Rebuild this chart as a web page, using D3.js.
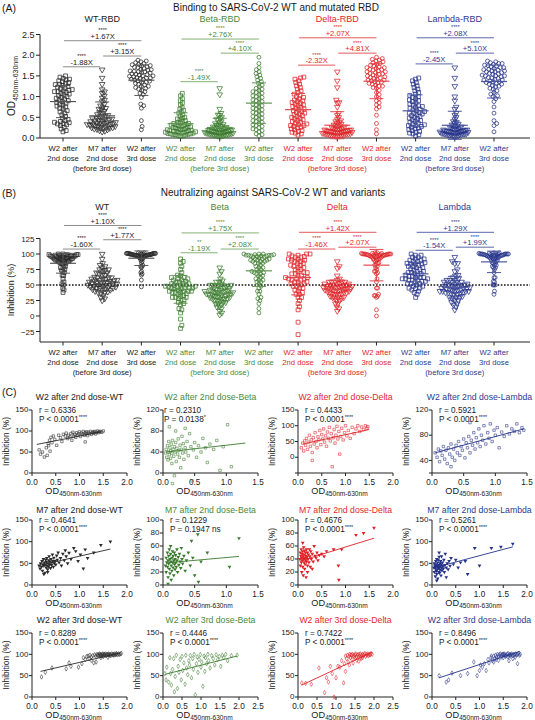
<!DOCTYPE html>
<html><head><meta charset="utf-8">
<script src="https://cdn.jsdelivr.net/npm/d3@7"></script>
<style>body{margin:0;background:#fff}svg{display:block}text{font-family:"Liberation Sans",Arial,Helvetica,sans-serif}</style>
</head><body><svg id="c" width="535" height="720"></svg>
<script>
// ---------------- DATA ----------------
const variants = ["WT","Beta","Delta","Lambda"];
const groupTitlesA = ["WT-RBD","Beta-RBD","Delta-RBD","Lambda-RBD"];
const groupTitlesB = ["WT","Beta","Delta","Lambda"];
const timeLine1 = ["W2 after","M7 after","W2 after"];
const timeLine2 = ["2nd dose","2nd dose","3rd dose"];
const beforeLabel = "(before 3rd dose)";
const timeTitles = ["W2 after 2nd dose","M7 after 2nd dose","W2 after 3rd dose"];

// per subject pairs: [OD450nm-630nm, inhibition %]
const wt_w2 = [[0.15,55],[0.18,45],[0.22,50],[0.26,38],[0.3,60],[0.32,42],[0.34,70],[0.35,65],[0.37,78],[0.38,52],[0.4,85],[0.42,72],[0.45,88],[0.48,80],[0.52,66],[0.56,90],[0.6,84],[0.63,75],[0.66,92],[0.7,88],[0.72,95],[0.75,82],[0.77,90],[0.8,86],[0.82,94],[0.84,78],[0.86,97],[0.88,88],[0.9,92],[0.92,85],[0.94,96],[0.96,90],[0.98,93],[1.0,98],[1.02,87],[1.04,95],[1.06,92],[1.08,99],[1.1,90],[1.12,96],[1.14,93],[1.15,98],[1.17,89],[1.19,97],[1.21,94],[1.23,99],[1.25,92],[1.27,96],[1.29,98],[1.3,95],[1.32,99],[1.34,93],[1.36,97],[1.38,100],[1.4,96],[1.42,98],[1.44,99],[1.47,97],[1.5,100],[1.12,74]];
const wt_m7 = [[0.15,45],[0.17,38],[0.18,50],[0.2,42],[0.21,55],[0.22,33],[0.23,48],[0.24,60],[0.25,44],[0.26,52],[0.27,28],[0.28,47],[0.29,58],[0.3,40],[0.3,53],[0.31,62],[0.32,45],[0.33,36],[0.34,50],[0.35,57],[0.35,43],[0.36,66],[0.37,48],[0.38,54],[0.39,39],[0.4,60],[0.41,46],[0.42,52],[0.43,70],[0.44,56],[0.45,42],[0.46,63],[0.47,50],[0.48,55],[0.5,47],[0.52,68],[0.53,58],[0.55,75],[0.57,52],[0.6,62],[0.62,45],[0.65,72],[0.68,57],[0.7,80],[0.72,66],[0.75,50],[0.78,74],[0.82,60],[0.88,85],[0.92,78],[0.97,55],[1.02,70],[1.08,38],[1.12,82],[1.17,62],[1.3,75],[1.45,92],[1.65,100],[0.25,25],[0.33,30]];
const wt_w3 = [[0.2,47],[0.28,58],[0.42,68],[0.72,66],[0.78,80],[0.82,72],[0.98,70],[1.05,78],[1.08,92],[1.12,88],[1.15,95],[1.18,96],[1.2,90],[1.22,98],[1.25,94],[1.28,97],[1.3,80],[1.32,99],[1.34,96],[1.35,82],[1.37,100],[1.38,98],[1.4,97],[1.41,99],[1.42,101],[1.44,98],[1.45,100],[1.46,97],[1.48,99],[1.49,101],[1.5,98],[1.52,100],[1.53,99],[1.54,97],[1.55,101],[1.57,98],[1.58,100],[1.6,99],[1.61,101],[1.62,98],[1.64,100],[1.65,99],[1.66,97],[1.68,101],[1.7,99],[1.71,100],[1.72,98],[1.74,101],[1.75,99],[1.77,100],[1.78,102],[1.8,99],[1.82,101],[1.84,100],[1.86,101],[1.88,102],[1.6,93],[1.5,95],[1.45,92],[1.25,86]];
const beta_w2 = [[0.04,38],[0.05,45],[0.06,30],[0.07,52],[0.08,25],[0.08,40],[0.09,60],[0.1,35],[0.1,88],[0.11,48],[0.12,28],[0.12,42],[0.13,55],[0.14,18],[0.14,38],[0.15,62],[0.16,45],[0.17,32],[0.18,50],[0.18,-5],[0.19,40],[0.2,58],[0.21,22],[0.22,47],[0.23,36],[0.24,65],[0.25,43],[0.26,30],[0.27,53],[0.28,10],[0.29,45],[0.3,70],[0.31,38],[0.32,56],[0.33,26],[0.35,48],[0.36,40],[0.38,60],[0.4,33],[0.42,75],[0.44,50],[0.46,-15],[0.48,44],[0.5,58],[0.53,30],[0.56,52],[0.6,40],[0.63,66],[0.67,48],[0.7,20],[0.74,55],[0.8,45],[0.85,62],[0.9,5],[0.95,50],[1.02,92],[1.08,12],[0.2,80],[0.15,-20],[0.35,85]];
const beta_m7 = [[0.04,30],[0.05,42],[0.05,20],[0.06,35],[0.07,50],[0.07,28],[0.08,38],[0.08,12],[0.09,45],[0.09,33],[0.1,55],[0.1,25],[0.11,40],[0.11,18],[0.12,36],[0.12,48],[0.13,30],[0.13,8],[0.14,42],[0.14,22],[0.15,52],[0.15,35],[0.16,27],[0.16,45],[0.17,38],[0.17,15],[0.18,32],[0.18,50],[0.19,40],[0.19,24],[0.2,46],[0.2,34],[0.21,28],[0.22,55],[0.22,38],[0.23,20],[0.24,43],[0.25,31],[0.26,48],[0.27,36],[0.28,26],[0.29,57],[0.3,40],[0.31,33],[0.33,45],[0.35,22],[0.37,38],[0.4,50],[0.43,30],[0.47,42],[0.5,15],[0.55,78],[0.56,5],[0.6,36],[0.7,50],[0.45,68],[1.05,28],[1.2,72],[0.12,60],[0.08,2]];
const beta_w3 = [[0.05,55],[0.08,40],[0.1,70],[0.15,35],[0.18,92],[0.2,55],[0.22,28],[0.25,65],[0.28,90],[0.3,12],[0.32,48],[0.35,98],[0.38,20],[0.4,72],[0.42,58],[0.45,88],[0.48,40],[0.5,95],[0.52,62],[0.55,80],[0.58,30],[0.6,98],[0.62,68],[0.65,52],[0.68,85],[0.7,75],[0.72,97],[0.75,45],[0.78,90],[0.8,65],[0.82,100],[0.85,5],[0.88,78],[0.9,94],[0.92,58],[0.95,88],[0.98,99],[1.0,70],[1.02,82],[1.05,25],[1.08,96],[1.1,60],[1.12,92],[1.15,78],[1.18,100],[1.2,85],[1.24,68],[1.28,97],[1.32,90],[1.36,75],[1.4,99],[1.44,88],[1.48,95],[1.52,72],[1.56,98],[1.6,92],[1.65,100],[1.7,85],[1.8,97],[1.95,98]];
const delta_w2 = [[0.07,30],[0.1,45],[0.12,20],[0.14,52],[0.16,38],[0.18,60],[0.2,25],[0.22,48],[0.24,70],[0.26,35],[0.28,55],[0.3,15],[0.32,62],[0.34,42],[0.36,78],[0.38,50],[0.4,30],[0.42,65],[0.44,55],[0.46,85],[0.48,40],[0.5,72],[0.52,58],[0.54,90],[0.56,48],[0.58,68],[0.6,35],[0.62,80],[0.64,60],[0.66,95],[0.68,52],[0.7,75],[0.72,-30],[0.74,62],[0.76,88],[0.78,45],[0.8,70],[0.82,98],[0.84,58],[0.86,82],[0.88,10],[0.9,66],[0.92,92],[0.95,55],[0.98,78],[1.0,100],[1.03,68],[1.06,85],[1.1,60],[1.14,95],[1.18,75],[1.22,90],[1.26,100],[1.3,82],[1.34,96],[1.38,88],[1.42,100],[1.45,92],[1.47,97],[0.3,-10]];
const delta_m7 = [[0.04,40],[0.05,50],[0.05,30],[0.06,45],[0.07,55],[0.07,35],[0.08,42],[0.08,20],[0.09,48],[0.09,38],[0.1,52],[0.1,28],[0.11,44],[0.11,15],[0.12,40],[0.12,58],[0.13,35],[0.13,47],[0.14,25],[0.14,53],[0.15,42],[0.15,32],[0.16,50],[0.16,38],[0.17,45],[0.17,12],[0.18,55],[0.18,36],[0.19,43],[0.2,30],[0.2,50],[0.21,40],[0.22,47],[0.23,35],[0.24,55],[0.25,44],[0.26,28],[0.27,52],[0.28,40],[0.3,48],[0.32,36],[0.34,60],[0.36,45],[0.38,42],[0.4,50],[0.42,38],[0.45,46],[0.5,48],[0.55,44],[0.6,52],[0.75,55],[0.85,30],[0.86,8],[0.92,55],[1.22,77],[1.38,80],[1.6,88],[0.1,65],[0.2,20],[0.3,25]];
const delta_w3 = [[0.1,33],[0.2,32],[0.35,30],[0.55,68],[0.7,10],[0.75,45],[0.8,35],[0.85,72],[0.9,55],[0.95,0],[1.0,45],[1.05,72],[1.1,70],[1.15,85],[1.2,33],[1.22,78],[1.25,60],[1.28,90],[1.3,98],[1.32,82],[1.34,96],[1.36,100],[1.38,92],[1.4,98],[1.42,88],[1.44,100],[1.46,97],[1.48,95],[1.5,99],[1.52,101],[1.54,94],[1.56,98],[1.58,100],[1.6,96],[1.62,99],[1.64,101],[1.66,90],[1.68,98],[1.7,100],[1.72,97],[1.74,99],[1.76,102],[1.78,95],[1.8,100],[1.82,98],[1.84,101],[1.86,97],[1.88,100],[1.9,99],[1.92,102],[1.95,100],[1.45,80],[1.55,86],[1.65,93],[1.35,75],[1.5,91],[1.6,84],[1.7,92],[1.25,96],[1.4,99]];
const lambda_w2 = [[0.05,52],[0.08,45],[0.1,58],[0.12,38],[0.14,55],[0.16,48],[0.18,62],[0.2,42],[0.22,56],[0.24,35],[0.26,60],[0.28,50],[0.3,66],[0.32,45],[0.34,58],[0.36,40],[0.38,64],[0.4,52],[0.42,70],[0.44,48],[0.46,62],[0.48,56],[0.5,74],[0.52,44],[0.54,68],[0.56,60],[0.58,78],[0.6,52],[0.62,72],[0.64,64],[0.66,84],[0.68,58],[0.7,76],[0.72,68],[0.74,90],[0.76,62],[0.78,80],[0.8,72],[0.82,95],[0.85,66],[0.88,84],[0.9,75],[0.92,98],[0.95,70],[0.98,88],[1.0,80],[1.03,92],[1.06,60],[1.1,85],[1.14,78],[1.18,95],[1.22,82],[1.26,90],[1.3,86],[1.34,98],[1.38,84],[1.42,92],[1.45,88],[0.3,30],[0.6,100]];
const lambda_m7 = [[0.04,40],[0.05,30],[0.05,50],[0.06,45],[0.07,20],[0.07,38],[0.08,55],[0.08,42],[0.09,32],[0.09,48],[0.1,60],[0.1,25],[0.11,44],[0.11,36],[0.12,52],[0.12,15],[0.13,40],[0.13,58],[0.14,30],[0.14,46],[0.15,38],[0.15,65],[0.16,42],[0.16,28],[0.17,50],[0.17,35],[0.18,45],[0.18,55],[0.19,22],[0.2,40],[0.2,48],[0.21,34],[0.22,52],[0.23,43],[0.24,38],[0.25,58],[0.26,30],[0.27,46],[0.28,72],[0.3,40],[0.32,50],[0.34,36],[0.36,55],[0.38,44],[0.4,62],[0.45,48],[0.5,58],[0.55,40],[0.6,52],[0.7,55],[0.75,25],[0.9,85],[1.0,45],[1.25,85],[1.45,88],[1.7,95],[0.1,10],[0.2,66],[0.3,18],[0.15,75]];
const lambda_w3 = [[0.15,50],[0.3,35],[0.35,40],[0.42,56],[0.6,50],[0.75,55],[0.88,82],[0.95,50],[1.0,62],[1.02,75],[1.06,70],[1.1,78],[1.14,62],[1.18,88],[1.2,80],[1.24,92],[1.27,85],[1.3,96],[1.32,90],[1.34,98],[1.36,94],[1.38,100],[1.4,96],[1.42,99],[1.44,101],[1.46,97],[1.48,100],[1.5,98],[1.52,101],[1.54,99],[1.56,97],[1.58,100],[1.6,102],[1.62,98],[1.64,100],[1.66,99],[1.68,101],[1.7,97],[1.72,100],[1.74,98],[1.76,101],[1.78,99],[1.8,100],[1.82,102],[1.84,98],[1.86,100],[1.5,92],[1.6,94],[1.7,90],[1.45,93],[1.55,95],[1.35,88],[1.65,96],[1.75,93],[1.4,86],[1.3,82],[1.25,96],[1.62,85],[1.8,78],[1.5,100]];

const datasets = [[wt_w2, wt_m7, wt_w3],[beta_w2, beta_m7, beta_w3],[delta_w2, delta_m7, delta_w3],[lambda_w2, lambda_m7, lambda_w3]];

// comparisons: [top (W2 2nd vs W2 3rd), left (W2 2nd vs M7), right (M7 vs W2 3rd)]
const foldA = [["+1.67X","-1.88X","+3.15X"],["+2.76X","-1.49X","+4.10X"],["+2.07X","-2.32X","+4.81X"],["+2.08X","-2.45X","+5.10X"]];
const starsA = [["****","****","****"],["****","****","****"],["****","****","****"],["****","****","****"]];
const bracketA = [[2.35,1.72,1.98],[2.39,1.36,2.05],[2.42,1.76,2.05],[2.42,1.79,2.05]];
const foldB = [["+1.10X","-1.60X","+1.77X"],["+1.75X","-1.19X","+2.08X"],["+1.42X","-1.46X","+2.07X"],["+1.29X","-1.54X","+1.99X"]];
const starsB = [["****","****","****"],["****","**","****"],["****","****","****"],["****","****","****"]];
const bracketB = [[146,108,123],[134,102,108],[135,108,111],[135,106,111]];

const yTicksA = [0,0.5,1.0,1.5,2.0,2.5];
const yTicksB = [-25,0,25,50,75,100,125];
const thresholdB = 50;

// correlation panels: rows = time points, cols = variants
const rText = [["r = 0.6336","r = 0.2310","r = 0.4433","r = 0.5921"],["r = 0.4641","r = 0.1229","r = 0.4676","r = 0.5261"],["r = 0.8289","r = 0.4446","r = 0.7422","r = 0.8496"]];
const pText = [["P < 0.0001","P = 0.0138","P < 0.0001","P < 0.0001"],["P < 0.0001","P = 0.1947 ns","P < 0.0001","P < 0.0001"],["P < 0.0001","P < 0.0001","P < 0.0001","P < 0.0001"]];
const pStars = [["****","*","****","****"],["****","","****","****"],["****","****","****","****"]];
const cXMax = [[2,1.5,2,1.5],[2,1.5,2,2],[2,2.5,2.5,2]];
const cYTicks = [[[0,50,100,150],[0,40,80,120],[-50,0,50,100,150],[20,40,80,120]],
                 [[0,50,100,150],[0,20,40,60,80,100],[0,20,40,60,80,100],[0,50,100,150]],
                 [[0,50,100,150],[0,50,100,150],[0,50,100,150],[0,50,100,150]]];
const cYLabels = [[[0,50,100,150],[0,40,80,120],[0,50,100,150],[40,80,120]],
                 [[0,50,100,150],[0,20,40,60,80,100],[0,20,40,60,80,100],[0,50,100,150]],
                 [[0,50,100,150],[0,50,100,150],[0,50,100,150],[0,50,100,150]]];
// regression lines: [x0, y0, x1, y1]
const cFits = [[[0.1,68,1.45,98],[0.05,40,1.3,57],[0.1,42,1.5,88],[0.05,52,1.45,90]],
               [[0.15,45,1.65,83],[0.05,34,1.2,44],[0.05,37,1.6,72],[0.05,40,1.7,88]],
               [[0.18,60,1.85,103],[0.05,53,1.95,96],[0.1,28,1.95,105],[0.15,45,1.85,107]]];

// ---------------- STYLE ----------------
const textCol = ["#1a1a1a","#4a8a3c","#e3262b","#2d3b8f"];
const markCol = ["#2a2a2a","#3a7a2c","#de2126","#243288"];
const brCol = ["#8c8c8c","#84b277","#e8585c","#5b67ad"];
const meanCol = ["#555555","#5d9450","#e04a4e","#4a57a0"];

const svg = d3.select("#c");
function T(g,x,y,s,size,opt={}) {
  const t = g.append("text").attr("x",x).attr("y",y).attr("font-size",size)
    .attr("text-anchor",opt.anchor||"middle").attr("fill",opt.fill||"#1a1a1a").text(s);
  if (opt.rotate) t.attr("transform",`rotate(-90,${x},${y})`);
  return t;
}
const symSquare = d3.symbol().type(d3.symbolSquare);
const symTri = d3.symbol().type(d3.symbolTriangle);
const symCircle = d3.symbol().type(d3.symbolCircle);
const symDiamond = d3.symbol().type(d3.symbolDiamond);

function swarm(ys, d, maxHalf) {
  const idx = ys.map((y,i)=>i).sort((a,b)=>ys[b]-ys[a]);
  const placed = []; let xs = new Array(ys.length);
  for (const i of idx) {
    const y = ys[i];
    const near = placed.filter(p => Math.abs(p.y-y) < d);
    const cands = [0];
    for (const p of near) { const dx = Math.sqrt(d*d-(p.y-y)**2); cands.push(p.x+dx, p.x-dx); }
    cands.sort((a,b)=>Math.abs(a)-Math.abs(b));
    let best = 0;
    for (const c of cands) { if (near.every(p => (p.x-c)**2+(p.y-y)**2 >= d*d-1e-6)) { best = c; break; } }
    xs[i] = best; placed.push({x:best,y});
  }
  const mx = d3.max(xs, x=>Math.abs(x));
  if (mx > maxHalf) xs = xs.map(x => x*maxHalf/mx);
  return xs;
}

const xCat = d3.scalePoint().domain(d3.range(12)).range([63,494]);

function marker(sel, t) {
  if (t===0) sel.attr("d", symSquare.size(15)());
  else if (t===1) sel.attr("d", symTri.size(14)());
  else sel.attr("d", symCircle.size(12)());
}

function dotPanel(o) {
  const g = svg.append("g");
  const y = o.y;
  const top = y(o.yTicks[o.yTicks.length-1]);
  g.append("line").attr("x1",40).attr("x2",40).attr("y1",o.axisY).attr("y2",top).attr("stroke","#222").attr("stroke-width",1);
  o.yTicks.forEach(t => {
    g.append("line").attr("x1",36).attr("x2",40).attr("y1",y(t)).attr("y2",y(t)).attr("stroke","#222");
    T(g,34.5,y(t)+3.2,o.fmt(t),o.tickSize,{anchor:"end"});
  });
  g.append("line").attr("x1",40).attr("x2",530).attr("y1",o.axisY).attr("y2",o.axisY).attr("stroke","#222");
  if (o.threshold!=null) g.append("line").attr("x1",40).attr("x2",530).attr("y1",y(o.threshold)).attr("y2",y(o.threshold))
      .attr("stroke","#111").attr("stroke-width",1.3).attr("stroke-dasharray","1.6,1.6");
  variants.forEach((v,vi) => {
    const gc = xCat(vi*3+1);
    T(g,gc,o.groupY,o.groupTitles[vi],o.groupSize,{fill:textCol[vi]});
    T(g,gc,o.axisY+33,beforeLabel,7.7,{fill:textCol[vi]});
    [0,1,2].forEach(ti => {
      const cx = xCat(vi*3+ti);
      g.append("line").attr("x1",cx).attr("x2",cx).attr("y1",o.axisY).attr("y2",o.axisY+3.5).attr("stroke","#222");
      T(g,cx,o.axisY+13,timeLine1[ti],7.7,{fill:textCol[vi]});
      T(g,cx,o.axisY+22.5,timeLine2[ti],7.7,{fill:textCol[vi]});
      const vals = datasets[vi][ti].map(d=>d[o.field]);
      const ys = vals.map(d=>y(d));
      const xs = swarm(ys, 3.4, 15);
      vals.forEach((d,i) => {
        const p = g.append("path").attr("fill","none").attr("stroke",markCol[vi]).attr("stroke-width",0.75);
        marker(p, ti);
        p.attr("transform",`translate(${cx+xs[i]},${ys[i]})${ti===1?" rotate(180)":""}`);
      });
      const m = d3.mean(vals), sd = d3.deviation(vals);
      const mc = meanCol[vi];
      g.append("line").attr("x1",cx).attr("x2",cx).attr("y1",y(m-sd)).attr("y2",y(m+sd)).attr("stroke",mc).attr("stroke-width",1);
      [m-sd,m+sd].forEach(s => g.append("line").attr("x1",cx-7).attr("x2",cx+7).attr("y1",y(s)).attr("y2",y(s)).attr("stroke",mc).attr("stroke-width",1));
      g.append("line").attr("x1",cx-13).attr("x2",cx+13).attr("y1",y(m)).attr("y2",y(m)).attr("stroke",mc).attr("stroke-width",1.2);
    });
    // brackets
    const c0 = xCat(vi*3), c1 = xCat(vi*3+1), c2 = xCat(vi*3+2);
    const spans = [[c0+1,c2],[c0,c1-2],[c1+1,c2]];
    spans.forEach((sp,k) => {
      const yy = y(o.brackets[vi][k]);
      g.append("line").attr("x1",sp[0]).attr("x2",sp[1]).attr("y1",yy).attr("y2",yy).attr("stroke",brCol[vi]).attr("stroke-width",1);
      const mx = (sp[0]+sp[1])/2;
      T(g,mx,yy-1.8,o.fold[vi][k],7.6,{fill:textCol[vi]});
      T(g,mx,yy-8.6,o.stars[vi][k],5.6,{fill:textCol[vi]});
    });
  });
}

// Panel labels and titles
T(svg,2,12,"(A)",10.5,{anchor:"start"});
T(svg,276,10.5,"Binding to SARS-CoV-2 WT and mutated RBD",10);
T(svg,2,197,"(B)",10.5,{anchor:"start"});
T(svg,273,196,"Neutralizing against SARS-CoV-2 WT and variants",10);
T(svg,2,396,"(C)",10.5,{anchor:"start"});

// Panel A
const yA = d3.scaleLinear().domain([0,2.5]).range([138,34.5]);
dotPanel({y:yA, yTicks:yTicksA, fmt:d3.format(".1f"), tickSize:9, axisY:138, field:0, groupY:21.5, groupTitles:groupTitlesA, groupSize:9, brackets:bracketA, fold:foldA, stars:starsA});
const odA = T(svg,15,86,"OD",10,{rotate:true});
odA.append("tspan").attr("font-size",7).attr("dy",2.5).text("450nm-630nm");

// Panel B
const yB = d3.scaleLinear().domain([-25,125]).range([331.5,238.5]);
dotPanel({y:yB, yTicks:yTicksB, fmt:d3.format("d"), tickSize:8, axisY:342, field:1, groupY:209.5, groupTitles:groupTitlesB, groupSize:9, brackets:bracketB, fold:foldB, stars:starsB, threshold:thresholdB});
T(svg,14,290,"Inhibition (%)",9,{rotate:true});

// Panel C
const cAxisX = [32,163,298,432];
const cW = 95;
const cTop = [410,520,633], cBot = [473,585,697];
const cTitleY = [400,513,623];
const cMark = [symSquare.size(6), symTri.size(6), symDiamond.size(6)];
timeTitles.forEach((tt,r) => {
  variants.forEach((v,c) => {
    const g = svg.append("g");
    const data = datasets[c][r];
    const x0 = cAxisX[c];
    const xs = d3.scaleLinear().domain([0,cXMax[r][c]]).range([x0,x0+cW]);
    const yt = cYTicks[r][c];
    const ys = d3.scaleLinear().domain([yt[0],yt[yt.length-1]]).range([cBot[r],cTop[r]]);
    T(g,x0+cW/2,cTitleY[r],tt+"-"+v,8.7,{fill:textCol[c]});
    g.append("line").attr("x1",x0).attr("x2",x0).attr("y1",cBot[r]).attr("y2",cTop[r]).attr("stroke","#222");
    g.append("line").attr("x1",x0).attr("x2",x0+cW).attr("y1",cBot[r]).attr("y2",cBot[r]).attr("stroke","#222");
    yt.forEach(t => g.append("line").attr("x1",x0-3).attr("x2",x0).attr("y1",ys(t)).attr("y2",ys(t)).attr("stroke","#222"));
    cYLabels[r][c].forEach(t => T(g,x0-3.5,ys(t)+2.2,String(t),8,{anchor:"end"}));
    d3.range(0,cXMax[r][c]+1e-9,0.5).forEach(t => {
      g.append("line").attr("x1",xs(t)).attr("x2",xs(t)).attr("y1",cBot[r]).attr("y2",cBot[r]+3).attr("stroke","#222");
      T(g,xs(t),cBot[r]+11.5,d3.format(".1f")(t),8.2);
    });
    const ol = T(g,x0+cW/2-6,cBot[r]+20.5,"OD",9.2);
    ol.append("tspan").attr("font-size",6.6).attr("dy",2).text("450nm-630nm");
    T(g,x0-23,(cTop[r]+cBot[r])/2,"Inhibition (%)",8.4,{rotate:true});
    data.forEach(d => {
      const p = g.append("path").attr("d",cMark[r]())
        .attr("transform",`translate(${xs(d[0])},${ys(d[1])})${r===1?" rotate(180)":""}`);
      if (r===1) p.attr("fill",markCol[c]).attr("stroke","none");
      else p.attr("fill","none").attr("stroke",markCol[c]).attr("stroke-width",0.55);
    });
    const f = cFits[r][c];
    g.append("line").attr("x1",xs(f[0])).attr("y1",ys(f[1])).attr("x2",xs(f[2])).attr("y2",ys(f[3]))
      .attr("stroke",markCol[c]).attr("stroke-width",0.9);
    const rx = x0 + (r===0&&c===1 ? 1 : 7);
    T(g,rx,cTop[r]+3,rText[r][c],8.2,{anchor:"start"});
    const pt = T(g,rx,cTop[r]+11.5,pText[r][c],8.2,{anchor:"start"});
    if (pStars[r][c]) pt.append("tspan").attr("font-size",5.5).attr("dy",-2.5).text(pStars[r][c]);
  });
});
</script></body></html>
